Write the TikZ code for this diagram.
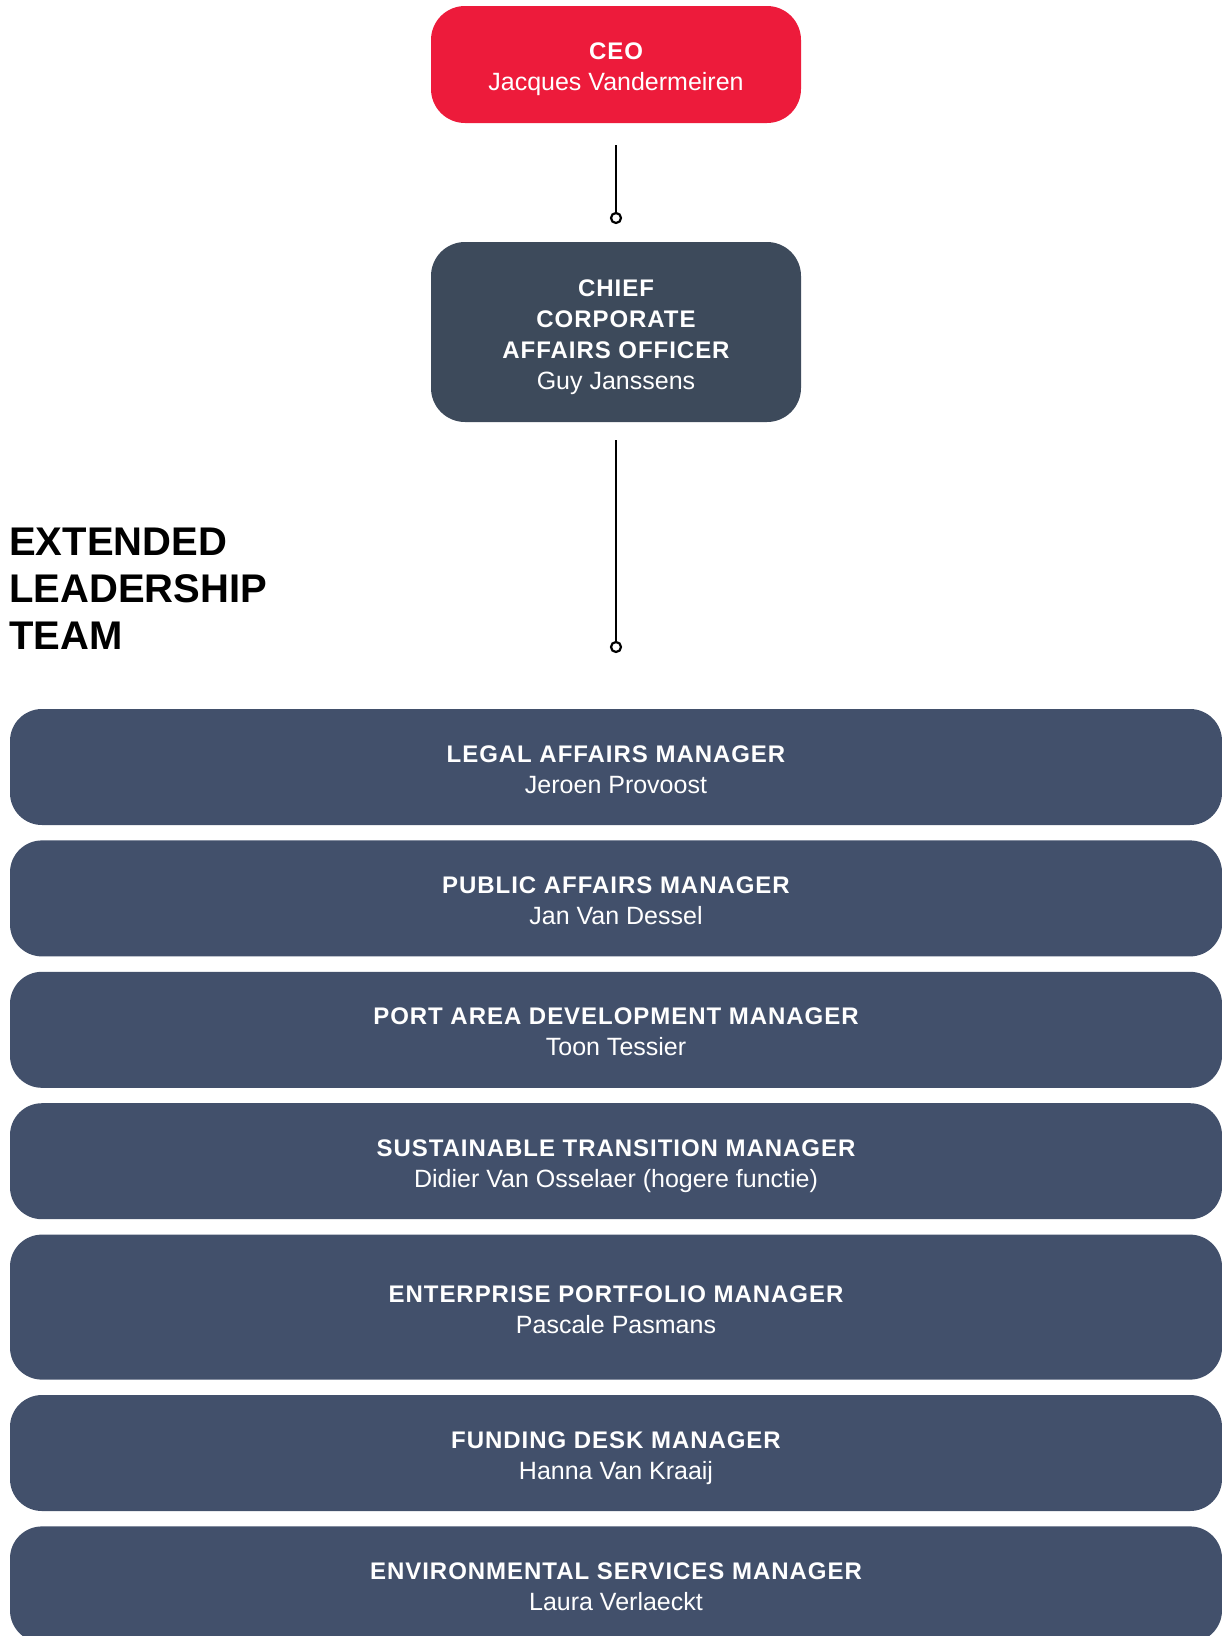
\documentclass[tikz,border=0pt]{standalone}
\usepackage{fontspec}
\setmainfont{Liberation Sans}
\usepackage{tikz}
\usetikzlibrary{positioning}
\definecolor{ceored}{HTML}{ED1B3B}
\definecolor{caboxc}{HTML}{3D4A5B}
\definecolor{elboxc}{HTML}{42506B}
% role line: bold, spaced out; first line of a box gets a fixed height
\newcommand{\rolefont}{\fontsize{24}{31}\selectfont\bfseries\addfontfeatures{LetterSpace=4}}
\newcommand{\role}[1]{\rule{0pt}{21pt}{\rolefont #1}}
\newcommand{\who}[1]{\smash{#1}}
\tikzset{
  font=\fontsize{25}{31}\selectfont,
  % Connecting line
  link/.style={line width=2.2pt, black},
  % Open circle at the end of a line
  dot/.style={draw, line width=2.2pt, fill=white, shape=circle, minimum size=10pt,
    inner sep=0pt},
  % General box
  box/.style={shape=rectangle, rounded corners=34pt, text=white, align=center,
    inner sep=0pt},
  % Top boxes
  ceobox/.style={box, fill=ceored, minimum width=370pt, minimum height=117pt},
  cabox/.style={box, fill=caboxc, minimum width=370pt, minimum height=180pt},
  % Team boxes
  elbox/.style={box, fill=elboxc, minimum width=1212pt, minimum height=116pt,
    rounded corners=32pt},
  % Heading
  heading/.style={font=\fontsize{40}{47}\selectfont\bfseries, align=left,
    inner sep=0pt, anchor=north west},
}
\begin{document}
\begin{tikzpicture}[x=1pt, y=-1pt]
  \useasboundingbox (0,0) rectangle (1222,1636);

  \node[ceobox] (ceo) at (616,64.5) {\role{CEO}\\\who{Jacques Vandermeiren}};
  \node[cabox] (cao) at (616,332) {\role{CHIEF}\\{\rolefont CORPORATE}\\{\rolefont AFFAIRS OFFICER}\\\who{Guy Janssens}};

  \node[dot] (d1) at (616,218) {};
  \node[dot] (d2) at (616,647) {};
  \draw[link, shorten <=22pt] (ceo) -- (d1);
  \draw[link, shorten <=18pt] (cao) -- (d2);

  \node[heading] (elt) at (9,528) {EXTENDED\\LEADERSHIP\\TEAM};

  \node[elbox] (legal) at (616,767) {\role{LEGAL AFFAIRS MANAGER}\\\who{Jeroen Provoost}};
  \node[elbox, below=15pt of legal] (public) {\role{PUBLIC AFFAIRS MANAGER}\\\who{Jan Van Dessel}};
  \node[elbox, below=15pt of public] (port) {\role{PORT AREA DEVELOPMENT MANAGER}\\\who{Toon Tessier}};
  \node[elbox, below=15pt of port] (sustain) {\role{SUSTAINABLE TRANSITION MANAGER}\\\who{Didier Van Osselaer (hogere functie)}};
  \node[elbox, minimum height=145pt, below=15pt of sustain] (portfolio) {\role{ENTERPRISE PORTFOLIO MANAGER}\\\who{Pascale Pasmans}};
  \node[elbox, below=15pt of portfolio] (funding) {\role{FUNDING DESK MANAGER}\\\who{Hanna Van Kraaij}};
  \node[elbox, below=15pt of funding] (environ) {\role{ENVIRONMENTAL SERVICES MANAGER}\\\who{Laura Verlaeckt}};
\end{tikzpicture}
\end{document}
